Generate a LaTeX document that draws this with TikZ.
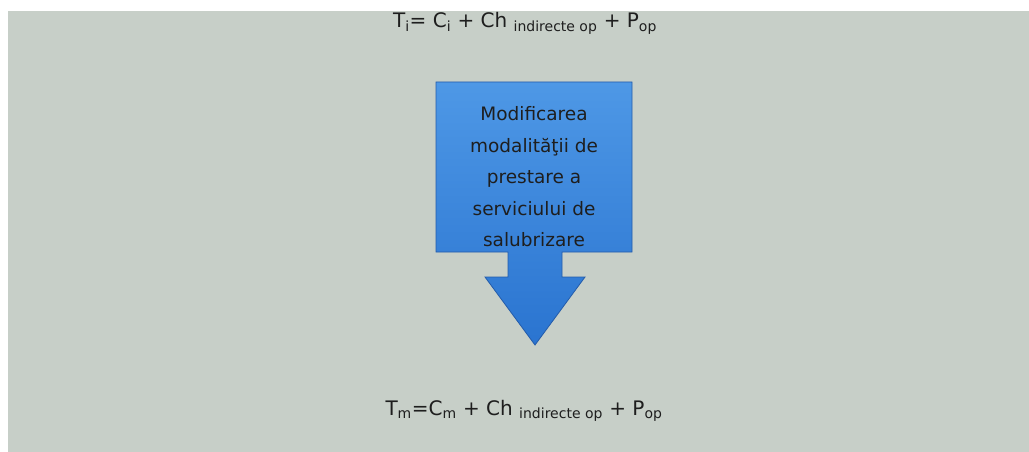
\documentclass[tikz,border=0pt]{standalone}
\usepackage{fontspec}
\setmainfont{DejaVu Sans}
\usetikzlibrary{positioning}
\definecolor{panelgray}{RGB}{199,207,200}
\definecolor{arrowtop}{RGB}{78,152,230}
\definecolor{arrowbot}{RGB}{42,116,208}
\definecolor{arrowline}{RGB}{36,92,170}
\definecolor{inktext}{RGB}{30,30,30}

\begin{document}
\begin{tikzpicture}[x=1pt,y=-1pt,
    formula/.style={text=inktext,font=\fontsize{20}{24}\selectfont,inner sep=0pt,anchor=base},
    callout/.style={draw=arrowline,line width=0.8pt,top color=arrowtop,bottom color=arrowbot}]
\useasboundingbox (0,0) rectangle (1029,452);
\fill[panelgray] (8,11) rectangle (1029,452);

% formulas
\node (ti)[formula] at (525,28) {T\textsubscript{i}= C\textsubscript{i} + Ch \textsubscript{indirecte op} + P\textsubscript{op}};
\node (tm)[formula] at (524,415) {T\textsubscript{m}=C\textsubscript{m} + Ch \textsubscript{indirecte op} + P\textsubscript{op}};

% down arrow callout
\path[callout] (436,82) -- (632,82) -- (632,252) -- (562,252) -- (562,277) -- (585,277)
    -- (535,345) -- (485,277) -- (508,277) -- (508,252) -- (436,252) -- cycle;
\node (change)[text=inktext,align=center,inner sep=0pt,
    font=\fontsize{18.5}{31.5}\selectfont] at (534,177)
    {Modificarea\\modalităţii de\\prestare a\\serviciului de\\salubrizare};
\end{tikzpicture}
\end{document}
